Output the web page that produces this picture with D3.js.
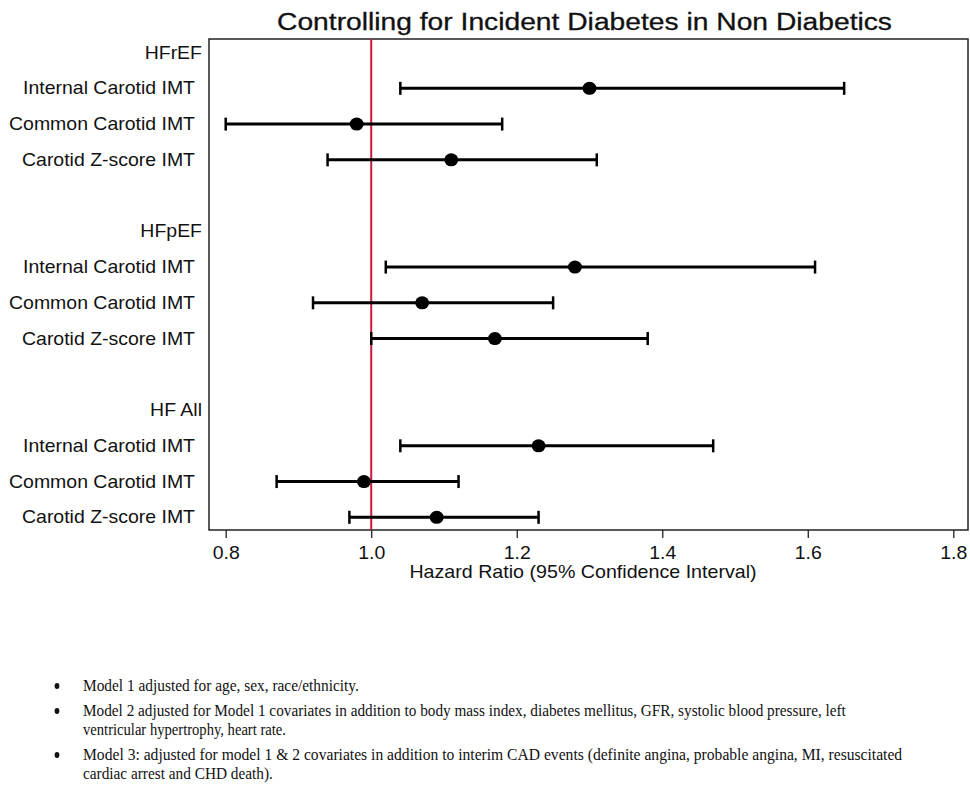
<!DOCTYPE html>
<html>
<head>
<meta charset="utf-8">
<script src="https://cdn.jsdelivr.net/npm/d3@7"></script>
<style>
  html, body { margin: 0; padding: 0; background: #fff; }
  svg { display: block; }
  .sans { font-family: "Liberation Sans", Arial, sans-serif; fill: #111; }
  .serif { font-family: "Liberation Serif", "Times New Roman", serif; fill: #111; }
</style>
</head>
<body>
<svg id="chart" width="970" height="785"></svg>
<script>
// ---------------- DATA ----------------
const title = "Controlling for Incident Diabetes in Non Diabetics";
const xAxisTitle = "Hazard Ratio (95% Confidence Interval)";
const groups = ["HFrEF", "HFpEF", "HF All"];
const measures = ["Internal Carotid IMT", "Common Carotid IMT", "Carotid Z-score IMT"];
// hazard ratios, per group (HFrEF, HFpEF, HF All) x measure
const hazardRatio = [1.30, 0.98, 1.11, 1.28, 1.07, 1.17, 1.23, 0.99, 1.09];
const ciLower     = [1.04, 0.80, 0.94, 1.02, 0.92, 1.00, 1.04, 0.87, 0.97];
const ciUpper     = [1.65, 1.18, 1.31, 1.61, 1.25, 1.38, 1.47, 1.12, 1.23];
const xTicks = [0.8, 1.0, 1.2, 1.4, 1.6, 1.8];
const referenceValue = 1.0;
const footnotes = [
  ["Model 1 adjusted for age, sex, race/ethnicity."],
  ["Model 2 adjusted for Model 1 covariates in addition to body mass index, diabetes mellitus, GFR, systolic blood pressure, left",
   "ventricular hypertrophy, heart rate."],
  ["Model 3: adjusted for model 1 & 2 covariates in addition to interim CAD events (definite angina, probable angina, MI, resuscitated",
   "cardiac arrest and CHD death)."]
];

// ---------------- LAYOUT ----------------
const box = { left: 209, right: 968, top: 39, bottom: 530 };
const labelFont = 17.7, labelStretch = 1.1;
const footLineWidths = [[276], [764, 203], [820, 190]];
const footBaselines = [[691], [716, 735], [760, 779]];

const svg = d3.select("#chart");

const x = d3.scaleLinear().domain([0.8, 1.8]).range([225.7, 953.3]);
const rowsPerGroup = measures.length + 2; // header + measures + blank
const nRows = groups.length * rowsPerGroup - 1;
const y = d3.scaleLinear().domain([0, nRows - 1]).range([52.6, 517.3]);

// Build rows
const records = [];
groups.forEach((g, gi) => {
  measures.forEach((m, mi) => {
    const k = gi * measures.length + mi;
    records.push({ group: g, measure: m, row: gi * rowsPerGroup + 1 + mi,
                   hr: hazardRatio[k], lo: ciLower[k], hi: ciUpper[k] });
  });
});

function stretched(parent, txt, tx, ty, anchor, sx, cls, size) {
  const g = parent.append("g").attr("transform", `translate(${tx},${ty}) scale(${sx},1)`);
  return g.append("text").attr("class", cls).attr("text-anchor", anchor)
    .style("font-size", size + "px").text(txt);
}
function fitted(parent, txt, tx, ty, anchor, width, cls, size) {
  const g = parent.append("g");
  const t = g.append("text").attr("class", cls).attr("text-anchor", anchor)
    .style("font-size", size + "px").text(txt);
  const w = t.node().getComputedTextLength();
  g.attr("transform", `translate(${tx},${ty}) scale(${width / w},1)`);
  return t;
}

// Title
fitted(svg, title, 584.5, 29.5, "middle", 615, "sans", 23.5)
  .attr("stroke", "#111").attr("stroke-width", 0.3);

// Plot box
svg.append("rect")
  .attr("x", box.left).attr("y", box.top)
  .attr("width", box.right - box.left).attr("height", box.bottom - box.top)
  .attr("fill", "none").attr("stroke", "#222").attr("stroke-width", 1.5);

// Reference line
svg.append("line")
  .attr("x1", x(referenceValue)).attr("x2", x(referenceValue))
  .attr("y1", box.top).attr("y2", box.bottom)
  .attr("stroke", "#cc1a3a").attr("stroke-width", 2);

// Axis
const axis = svg.append("g").attr("transform", `translate(0,${box.bottom})`)
  .call(d3.axisBottom(x).tickValues(xTicks).tickFormat(d3.format(".1f"))
        .tickSize(8).tickPadding(8));
axis.select(".domain").remove();
axis.selectAll(".tick line").attr("stroke", "#222").attr("stroke-width", 1.3);
axis.selectAll(".tick text")
  .attr("fill", "#111")
  .style("font-family", '"Liberation Sans", Arial, sans-serif')
  .style("font-size", labelFont + "px")
  .attr("transform", `scale(${labelStretch},1)`);

// Axis title
fitted(svg, xAxisTitle, 583, 577.7, "middle", 347.4, "sans", labelFont);

// Row labels
const labels = svg.append("g");
groups.forEach((g, gi) => {
  stretched(labels, g, 202, y(gi * rowsPerGroup), "end", labelStretch, "sans", labelFont)
    .attr("dy", "0.34em");
});
records.forEach(d => {
  stretched(labels, d.measure, 195, y(d.row), "end", labelStretch, "sans", labelFont)
    .attr("dy", "0.34em");
});

// Error bars
const bars = svg.append("g").attr("stroke", "#000");
bars.selectAll("line.ci").data(records).join("line").attr("class", "ci")
  .attr("x1", d => x(d.lo)).attr("x2", d => x(d.hi))
  .attr("y1", d => y(d.row)).attr("y2", d => y(d.row))
  .attr("stroke-width", 3);
bars.selectAll("line.capl").data(records).join("line").attr("class", "capl")
  .attr("x1", d => x(d.lo)).attr("x2", d => x(d.lo))
  .attr("y1", d => y(d.row) - 6.5).attr("y2", d => y(d.row) + 6.5)
  .attr("stroke-width", 2.5);
bars.selectAll("line.capr").data(records).join("line").attr("class", "capr")
  .attr("x1", d => x(d.hi)).attr("x2", d => x(d.hi))
  .attr("y1", d => y(d.row) - 6.5).attr("y2", d => y(d.row) + 6.5)
  .attr("stroke-width", 2.5);
svg.append("g").selectAll("ellipse").data(records).join("ellipse")
  .attr("cx", d => x(d.hr)).attr("cy", d => y(d.row))
  .attr("rx", 7).attr("ry", 6.5).attr("fill", "#000");

// Footnotes
const fn = svg.append("g");
footnotes.forEach((lines, i) => {
  fn.append("ellipse").attr("cx", 57).attr("cy", footBaselines[i][0] - 5)
    .attr("rx", 2.4).attr("ry", 3).attr("fill", "#111");
  lines.forEach((ln, j) => {
    fitted(fn, ln, 83, footBaselines[i][j], "start", footLineWidths[i][j], "serif", 16.5);
  });
});
</script>
</body>
</html>
